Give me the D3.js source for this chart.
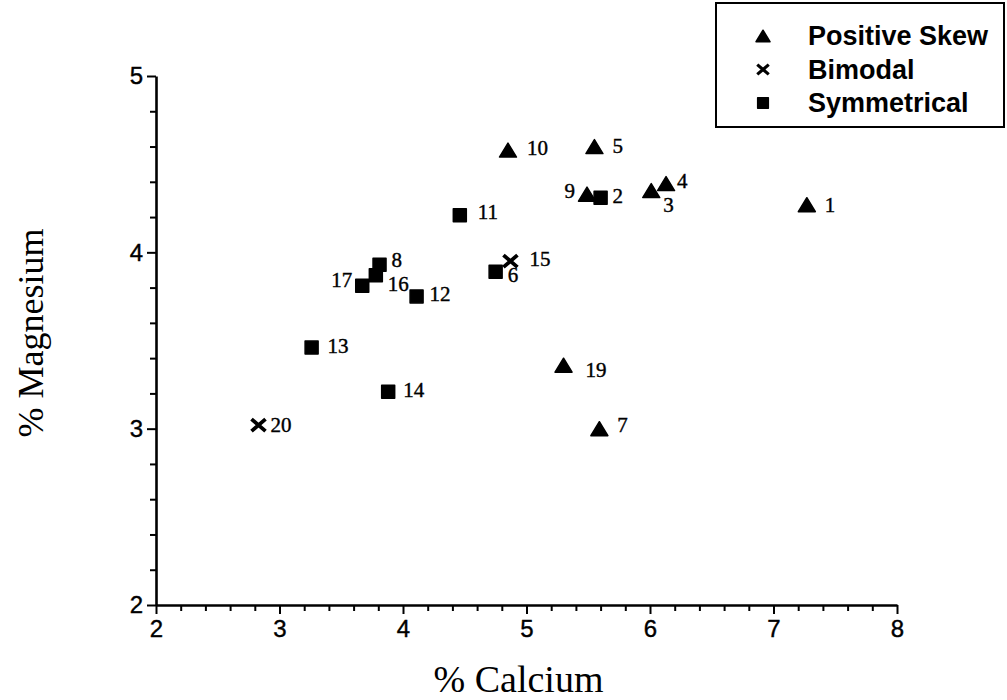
<!DOCTYPE html>
<html>
<head>
<meta charset="utf-8">
<script src="https://cdn.jsdelivr.net/npm/d3@7/dist/d3.min.js"></script>
<style>
  html, body { margin: 0; padding: 0; background: #fff; }
  svg { display: block; }
</style>
</head>
<body>
<svg id="chart" width="1007" height="700"></svg>
<script>
// Sample numbers, calcium and magnesium content (%) and distribution type
const sampleIds  = [1, 2, 3, 4, 5, 6, 7, 8, 9, 10, 11, 12, 13, 14, 15, 16, 17, 19, 20];
const calcium    = [7.27, 5.60, 6.01, 6.13, 5.55, 4.75, 5.59, 3.81, 5.49, 4.85, 4.46, 4.11, 3.26, 3.88, 4.87, 3.78, 3.67, 5.30, 2.83];
const magnesium  = [4.27, 4.31, 4.35, 4.39, 4.60, 3.89, 3.00, 3.93, 4.33, 4.58, 4.21, 3.75, 3.46, 3.21, 3.95, 3.87, 3.81, 3.36, 3.02];
const distribution = ["Positive Skew", "Symmetrical", "Positive Skew", "Positive Skew", "Positive Skew",
                      "Symmetrical", "Positive Skew", "Symmetrical", "Positive Skew", "Positive Skew",
                      "Symmetrical", "Symmetrical", "Symmetrical", "Symmetrical", "Bimodal",
                      "Symmetrical", "Symmetrical", "Positive Skew", "Bimodal"];

const legendLabels = ["Positive Skew", "Bimodal", "Symmetrical"];
const xTickValues  = [2, 3, 4, 5, 6, 7, 8];
const yTickValues  = [2, 3, 4, 5];
const xTitle = "% Calcium";
const yTitle = "% Magnesium";

const points = sampleIds.map((id, i) => ({
  id, ca: calcium[i], mg: magnesium[i], type: distribution[i]
}));

// Where each sample number sits next to its marker (anchor, dx, dy in px)
const labelPlacement = {
  1: ["start", 18, 0],   2: ["start", 12, -2],  3: ["start", 12, 14],  4: ["start", 11, -3],
  5: ["start", 18, -1],  6: ["start", 12, 3],   7: ["start", 18, -4],  8: ["start", 12, -5],
  9: ["end", -12, -3],   10: ["start", 19, -2], 11: ["start", 18, -3], 12: ["start", 13, -2],
  13: ["start", 16, -2], 14: ["start", 15, -2], 15: ["start", 19, -2], 16: ["start", 12, 9],
  17: ["end", -10, -6],  19: ["start", 22, 5],  20: ["start", 12, 0]
};

const svg = d3.select("#chart");

const x = d3.scaleLinear().domain([2, 8]).range([156, 897]);
const y = d3.scaleLinear().domain([2, 5]).range([605, 76]);

const sans  = "'Liberation Sans', Arial, sans-serif";
const serif = "'Liberation Serif', 'Times New Roman', serif";

// Minor ticks every 0.2 units
const xMinor = d3.range(2, 8.001, 0.2).filter(v => Math.abs(v - Math.round(v)) > 1e-6);
const yMinor = d3.range(2, 5.001, 0.2).filter(v => Math.abs(v - Math.round(v)) > 1e-6);

const xAxisG = svg.append("g").attr("transform", `translate(0,${y(2)})`);
xAxisG.append("g")
  .call(d3.axisBottom(x).tickValues(xMinor).tickSize(6).tickFormat(""))
  .call(g => g.select(".domain").remove());
xAxisG.append("g")
  .call(d3.axisBottom(x).tickValues(xTickValues).tickSize(9).tickPadding(6).tickSizeOuter(0).tickFormat(d3.format("d")));

const yAxisG = svg.append("g").attr("transform", `translate(${x(2)},0)`);
yAxisG.append("g")
  .call(d3.axisLeft(y).tickValues(yMinor).tickSize(6).tickFormat(""))
  .call(g => g.select(".domain").remove());
yAxisG.append("g")
  .call(d3.axisLeft(y).tickValues(yTickValues).tickSize(9).tickPadding(4).tickSizeOuter(0).tickFormat(d3.format("d")));

svg.selectAll(".domain").attr("stroke", "#000").attr("stroke-width", 2.6);
svg.selectAll(".tick line").attr("stroke", "#000").attr("stroke-width", 2);
svg.selectAll(".tick text")
  .attr("fill", "#000")
  .attr("stroke", "#000")
  .attr("stroke-width", 0.4)
  .style("font-family", sans)
  .style("font-size", "24px");

// Axis titles
svg.append("text")
  .attr("x", (x(2) + x(8)) / 2 - 8)
  .attr("y", 692)
  .attr("text-anchor", "middle")
  .style("font-family", serif)
  .style("font-size", "38px")
  .text(xTitle);

svg.append("text")
  .attr("transform", `translate(43,${333}) rotate(-90)`)
  .attr("text-anchor", "middle")
  .style("font-family", serif)
  .style("font-size", "36px")
  .text(yTitle);

// Marker shapes
function markerPath(type, s) {
  if (type === "Positive Skew") {
    const w = 8.5 * s, h = 7 * s;
    return `M0,${-h}L${w},${h}L${-w},${h}Z`;
  }
  if (type === "Symmetrical") {
    const r = 6.5 * s;
    return `M${-r},${-r}H${r}V${r}H${-r}Z`;
  }
  const a = 7 * s, b = 6 * s;
  return `M${-a},${-b}L${a},${b}M${-a},${b}L${a},${-b}`;
}

function drawMarker(sel, type, s) {
  const isX = type === "Bimodal";
  sel.append("path")
    .attr("d", markerPath(type, s))
    .attr("fill", isX ? "none" : "#000")
    .attr("stroke", "#000")
    .attr("stroke-width", isX ? 3.8 * s : 1.5)
    .attr("stroke-linejoin", "round")
    .attr("stroke-linecap", isX ? "butt" : "round");
}

const pts = svg.append("g").selectAll("g.pt")
  .data(points)
  .join("g")
  .attr("class", "pt")
  .attr("transform", d => `translate(${x(d.ca)},${y(d.mg)})`);

pts.each(function(d) { drawMarker(d3.select(this), d.type, 1); });

pts.append("text")
  .attr("text-anchor", d => labelPlacement[d.id][0])
  .attr("x", d => labelPlacement[d.id][1])
  .attr("y", d => labelPlacement[d.id][2])
  .attr("dominant-baseline", "central")
  .attr("stroke", "#000")
  .attr("stroke-width", 0.4)
  .style("font-family", serif)
  .style("font-size", "21px")
  .text(d => d.id);

// Legend
const legend = svg.append("g");
legend.append("rect")
  .attr("x", 716).attr("y", 3)
  .attr("width", 288).attr("height", 124)
  .attr("fill", "#fff")
  .attr("stroke", "#000")
  .attr("stroke-width", 2);

const rowY = d3.scalePoint().domain(legendLabels).range([36, 103]);
const rows = legend.selectAll("g.row")
  .data(legendLabels)
  .join("g")
  .attr("class", "row")
  .attr("transform", d => `translate(763,${rowY(d)})`);

rows.each(function(d) { drawMarker(d3.select(this), d, 0.82); });

rows.append("text")
  .attr("x", 45)
  .attr("dominant-baseline", "central")
  .style("font-family", sans)
  .style("font-weight", "bold")
  .style("font-size", "27px")
  .text(d => d);
</script>
</body>
</html>
